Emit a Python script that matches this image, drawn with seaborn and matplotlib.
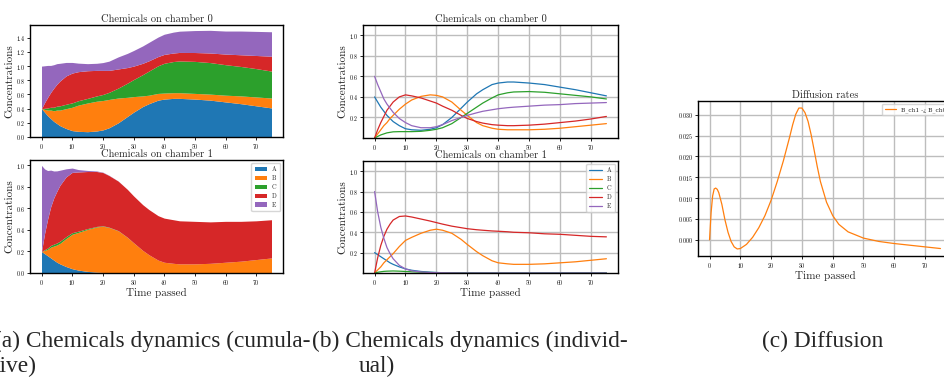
import numpy as np
import pandas as pd
import matplotlib
matplotlib.use('Agg')
import matplotlib.pyplot as plt
import seaborn as sns

# time grid
t = [0, 1, 2, 3, 4, 5, 6, 8, 10, 12, 15, 18, 20, 22, 25, 28, 30, 33, 35, 38, 40, 43, 45, 50, 55, 60, 65, 70, 75]
chemicals = ['A', 'B', 'C', 'D', 'E']

# chamber 0
ch0_a = [0.40, 0.35, 0.30, 0.26, 0.22, 0.19, 0.16, 0.12, 0.09, 0.08, 0.075, 0.085, 0.10, 0.13, 0.20, 0.29, 0.35, 0.43, 0.47, 0.52, 0.535, 0.545, 0.545, 0.535, 0.52, 0.495, 0.47, 0.44, 0.41]
ch0_b = [0.00, 0.04, 0.08, 0.12, 0.15, 0.19, 0.22, 0.28, 0.33, 0.37, 0.405, 0.42, 0.415, 0.40, 0.35, 0.27, 0.22, 0.15, 0.12, 0.095, 0.085, 0.08, 0.08, 0.08, 0.085, 0.095, 0.11, 0.125, 0.14]
ch0_c = [0.00, 0.015, 0.03, 0.04, 0.05, 0.055, 0.06, 0.062, 0.062, 0.062, 0.065, 0.075, 0.085, 0.10, 0.14, 0.20, 0.24, 0.30, 0.34, 0.39, 0.42, 0.44, 0.448, 0.452, 0.445, 0.43, 0.415, 0.40, 0.38]
ch0_d = [0.00, 0.08, 0.15, 0.21, 0.27, 0.31, 0.35, 0.40, 0.42, 0.41, 0.39, 0.36, 0.34, 0.31, 0.27, 0.22, 0.19, 0.16, 0.145, 0.13, 0.125, 0.12, 0.12, 0.125, 0.135, 0.15, 0.165, 0.185, 0.21]
ch0_e = [0.60, 0.52, 0.45, 0.38, 0.33, 0.29, 0.25, 0.19, 0.15, 0.12, 0.10, 0.10, 0.11, 0.13, 0.17, 0.20, 0.22, 0.245, 0.26, 0.275, 0.285, 0.295, 0.30, 0.31, 0.32, 0.325, 0.335, 0.34, 0.345]

# chamber 1
ch1_a = [0.20, 0.18, 0.16, 0.14, 0.12, 0.10, 0.085, 0.06, 0.04, 0.027, 0.015, 0.008, 0.005, 0.003, 0.002, 0.001, 0.001, 0, 0, 0, 0, 0, 0, 0, 0, 0, 0, 0, 0]
ch1_b = [0.00, 0.03, 0.06, 0.10, 0.13, 0.16, 0.19, 0.26, 0.32, 0.35, 0.39, 0.42, 0.43, 0.42, 0.39, 0.33, 0.28, 0.21, 0.17, 0.12, 0.10, 0.09, 0.085, 0.085, 0.09, 0.10, 0.11, 0.125, 0.14]
ch1_c = [0.00, 0.007, 0.012, 0.016, 0.018, 0.019, 0.02, 0.018, 0.015, 0.012, 0.008, 0.005, 0.004, 0.003, 0.002, 0.001, 0.001, 0, 0, 0, 0, 0, 0, 0, 0, 0, 0, 0, 0]
ch1_d = [0.00, 0.15, 0.27, 0.36, 0.43, 0.48, 0.52, 0.555, 0.56, 0.55, 0.53, 0.51, 0.495, 0.48, 0.46, 0.445, 0.435, 0.425, 0.42, 0.413, 0.41, 0.405, 0.40, 0.395, 0.385, 0.38, 0.37, 0.36, 0.355]
ch1_e = [0.80, 0.60, 0.45, 0.34, 0.25, 0.19, 0.14, 0.075, 0.04, 0.022, 0.01, 0.005, 0.003, 0.002, 0.001, 0, 0, 0, 0, 0, 0, 0, 0, 0, 0, 0, 0, 0, 0]

# diffusion rate B ch1 -> ch0
t_diff = [0, 0.5, 1, 1.5, 2, 2.5, 3, 4, 5, 6, 7, 8, 9, 10, 12, 14, 16, 18, 20, 22, 24, 26, 27, 28, 29, 30, 31, 32, 33, 34, 35, 36, 38, 40, 42, 45, 50, 55, 60, 65, 70, 75]
rate = [0, 0.0065, 0.0105, 0.0122, 0.0124, 0.0121, 0.0113, 0.0085, 0.0048, 0.0018, -0.0004, -0.0017, -0.0022, -0.0021, -0.0011, 0.0006, 0.0029, 0.0058, 0.0095, 0.014, 0.019, 0.0246, 0.0276, 0.0301, 0.0316, 0.0316, 0.0305, 0.0284, 0.0252, 0.0214, 0.0175, 0.0140, 0.0090, 0.0058, 0.0037, 0.0019, 0.0004, -0.0004, -0.0009, -0.0013, -0.0017, -0.0021]

captions = ['(a) Chemicals dynamics (cumula-', 'tive)', '(b) Chemicals dynamics (individ-', 'ual)', '(c) Diffusion']

sns.set_theme(style='ticks')
plt.rcParams['font.family'] = ['cmr10', 'DejaVu Serif']
plt.rcParams['axes.formatter.use_mathtext'] = True
plt.rcParams['axes.edgecolor'] = 'black'
plt.rcParams['axes.linewidth'] = 1.0
plt.rcParams['xtick.color'] = 'black'
plt.rcParams['ytick.color'] = 'black'

colors = sns.color_palette('tab10', 5)
W, H = 944, 377


def place(x0, y0, x1, y1):
    # pixel box (top-left origin) -> figure fraction
    return [x0 / W, 1 - y1 / H, (x1 - x0) / W, (y1 - y0) / H]


def style_axes(ax, grid):
    ax.tick_params(labelsize=4.2, length=2, width=0.6, pad=1.5)
    ax.set_xticks(range(0, 80, 10))
    if grid:
        ax.grid(True, color='#bdbdbd', linewidth=1.0)
    else:
        ax.grid(False)


def long_df(series):
    rows = []
    for name, vals in zip(chemicals, series):
        for tt, v in zip(t, vals):
            rows.append({'t': tt, 'value': v, 'chem': name})
    return pd.DataFrame(rows)


fig = plt.figure(figsize=(W / 100, H / 100), dpi=100)

chambers = [[ch0_a, ch0_b, ch0_c, ch0_d, ch0_e], [ch1_a, ch1_b, ch1_c, ch1_d, ch1_e]]

# (a) stacked
boxes_a = [(30, 25, 283, 137), (30, 160, 283, 273)]
for i, (series, box) in enumerate(zip(chambers, boxes_a)):
    ax = fig.add_axes(place(*box))
    ax.stackplot(t, *series, labels=chemicals, colors=colors, linewidth=0)
    style_axes(ax, False)
    ax.set_title(f'Chemicals on chamber {i}', fontsize=7.5, pad=2)
    ax.set_ylabel('Concentrations', fontsize=8, labelpad=1)
    if i == 1:
        ax.set_xlabel('Time passed', fontsize=8, labelpad=1)
        ax.legend(loc='upper right', fontsize=4.5, handlelength=2, borderpad=0.5)

# (b) individual
boxes_b = [(363, 25, 618, 138), (363, 161, 618, 273)]
for i, (series, box) in enumerate(zip(chambers, boxes_b)):
    ax = fig.add_axes(place(*box))
    df = long_df(series)
    sns.lineplot(data=df, x='t', y='value', hue='chem', palette=colors, linewidth=0.9, ax=ax, legend=(i == 1))
    style_axes(ax, True)
    ax.set_ylim(0, 1.1)
    ax.set_yticks([0.2, 0.4, 0.6, 0.8, 1.0])
    ax.set_title(f'Chemicals on chamber {i}', fontsize=7.5, pad=2)
    ax.set_ylabel('Concentrations', fontsize=8, labelpad=1)
    if i == 1:
        ax.set_xlabel('Time passed', fontsize=8, labelpad=1)
        h, l = ax.get_legend_handles_labels()
        ax.legend(h, l, loc='upper right', fontsize=4.5, handlelength=2, borderpad=0.5)
    else:
        ax.set_xlabel('')

# (c) diffusion
ax = fig.add_axes(place(698, 101, 952, 256))
sns.lineplot(x=t_diff, y=rate, color=colors[1], linewidth=0.9, ax=ax, label='B_ch1 -¿ B_ch0')
style_axes(ax, True)
ax.set_title('Diffusion rates', fontsize=7.5, pad=2)
ax.set_xlabel('Time passed', fontsize=8, labelpad=1)
ax.legend(loc='upper right', handlelength=2, borderpad=0.5,
          prop={'family': 'DejaVu Serif', 'size': 4.2})

# subfigure captions
cap = dict(family=['Liberation Serif'], fontsize=16.8, va='center')
fig.text(311 / W, 1 - 341 / H, captions[0], ha='right', **cap)
fig.text(-6 / W, 1 - 366 / H, captions[1], ha='left', **cap)
fig.text(312 / W, 1 - 341 / H, captions[2], ha='left', **cap)
fig.text(359 / W, 1 - 366 / H, captions[3], ha='left', **cap)
fig.text(762 / W, 1 - 341 / H, captions[4], ha='left', **cap)

fig.savefig('out.png', dpi=100)
